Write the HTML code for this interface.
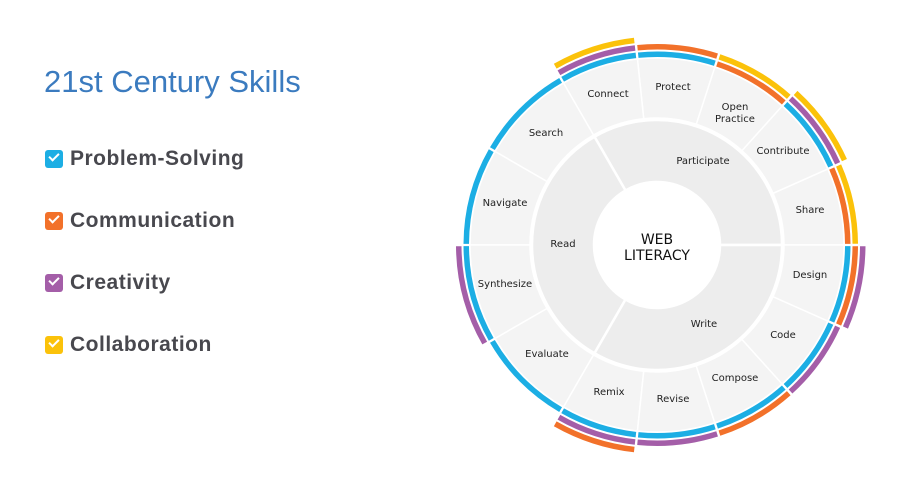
<!DOCTYPE html>
<html><head><meta charset="utf-8">
<style>
body{margin:0;width:913px;height:485px;background:#fff;overflow:hidden;position:relative;font-family:"Liberation Sans",sans-serif}
h1{position:absolute;left:44px;top:64px;margin:0;font-weight:normal;font-size:31px;color:#3b7bbf;letter-spacing:0px}
.it{position:absolute;left:45px;height:24px;font-weight:bold;font-size:21px;color:#48484e;letter-spacing:0.5px}
.cb{position:absolute;left:0;top:3px;width:18px;height:18px;border-radius:3px}
.cb:after{content:"";position:absolute;left:4px;top:3px;width:8px;height:4px;border-left:2.5px solid #fff;border-bottom:2.5px solid #fff;transform:rotate(-45deg)}
.it span{position:absolute;left:25px;top:0;white-space:nowrap}
svg{position:absolute;left:0;top:0}
svg text{font-family:"DejaVu Sans",sans-serif;font-size:10px;fill:#222;text-anchor:middle}
</style></head><body>
<h1>21st Century Skills</h1>
<div class="it" style="top:147px"><div class="cb" style="background:#1caee4"></div><span>Problem-Solving</span></div>
<div class="it" style="top:209px"><div class="cb" style="background:#f2712a"></div><span>Communication</span></div>
<div class="it" style="top:271px"><div class="cb" style="background:#a45ea8"></div><span>Creativity</span></div>
<div class="it" style="top:333px"><div class="cb" style="background:#fbc20a"></div><span>Collaboration</span></div>
<svg width="913" height="485" id="s">
<g id="g"></g>
<circle cx="657" cy="245" r="63" fill="#fff"/>
<text x="563" y="247">Read</text>
<text x="703" y="164">Participate</text>
<text x="704" y="327">Write</text>
<text x="810" y="213">Share</text>
<text x="783" y="154">Contribute</text>
<text x="735" y="110">Open</text><text x="735" y="122">Practice</text>
<text x="673" y="90">Protect</text>
<text x="608" y="97">Connect</text>
<text x="546" y="136">Search</text>
<text x="505" y="206">Navigate</text>
<text x="505" y="287">Synthesize</text>
<text x="547" y="357">Evaluate</text>
<text x="609" y="395">Remix</text>
<text x="673" y="402">Revise</text>
<text x="735" y="381">Compose</text>
<text x="783" y="338">Code</text>
<text x="810" y="278">Design</text>
<text x="657" y="244" style="font-size:14px;fill:#111">WEB</text>
<text x="657" y="260" style="font-size:14px;fill:#111">LITERACY</text>
</svg>
<script>
var cx=657,cy=245,g=document.getElementById('g'),NS='http://www.w3.org/2000/svg';
function P(r,a){a=a*Math.PI/180;return [cx+r*Math.cos(a),cy-r*Math.sin(a)];}
function arc(r0,r1,a0,a1,fill,stroke,sw){
 var p1=P(r1,a0),p2=P(r1,a1),p3=P(r0,a1),p4=P(r0,a0),l=(a1-a0)>180?1:0;
 var d='M'+p1+' A'+r1+','+r1+' 0 '+l+' 0 '+p2+' L'+p3+' A'+r0+','+r0+' 0 '+l+' 1 '+p4+'Z';
 var e=document.createElementNS(NS,'path');e.setAttribute('d',d);e.setAttribute('fill',fill);
 if(stroke){e.setAttribute('stroke',stroke);e.setAttribute('stroke-width',sw);}
 g.appendChild(e);}
arc(63,125,0,120,'#ededed','#fff',2.5);arc(63,125,120,240,'#ededed','#fff',2.5);arc(63,125,240,360,'#ededed','#fff',2.5);
var B='#1caee4',O='#f2712a',U='#a45ea8',Y='#fbc20a';
var segs=[[0,24,[O,Y]],[24,48,[B,U,Y]],[48,72,[O,Y]],[72,96,[B,O]],[96,120,[B,U,Y]],
[120,150,[B]],[150,180,[B]],[180,210,[B,U]],[210,240,[B]],
[240,264,[B,U,O]],[264,288,[B,U]],[288,312,[B,O]],[312,336,[B,U]],[336,360,[B,O,U]]];
segs.forEach(function(s){arc(127,187,s[0],s[1],'#f4f4f4','#fff',1.5);
 s[2].forEach(function(c,i){var r0=188+i*7.5;arc(r0,r0+5.5,s[0]+0.35,s[1]-0.35,c);});});
</script>
</body></html>
